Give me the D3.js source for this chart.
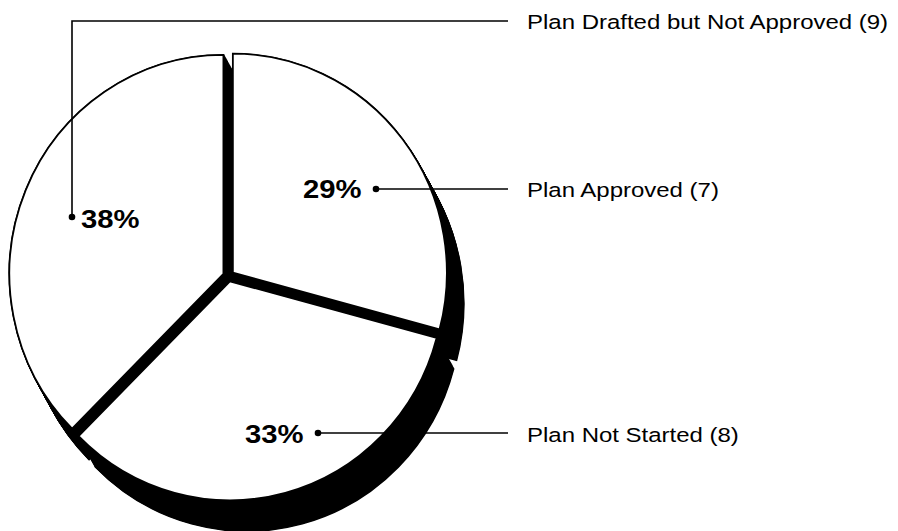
<!DOCTYPE html>
<html>
<head>
<meta charset="utf-8">
<script src="https://cdn.jsdelivr.net/npm/d3@7"></script>
<style>
  html, body { margin: 0; padding: 0; background: #fff; }
  svg { display: block; }
  text { font-family: "Liberation Sans", Arial, Helvetica, sans-serif; fill: #000; }
</style>
</head>
<body>
<svg id="chart" width="898" height="531"></svg>
<script>
// ---- data ----
const categories = ["Plan Approved", "Plan Not Started", "Plan Drafted but Not Approved"];
const counts = [7, 8, 9];
const percentLabels = ["29%", "33%", "38%"];

// ---- layout ----
const cx = 228.5, cy = 276;
const rx = 214, ry = 219;
const explode = 5.5;
const depth = [17, 31];   // extrusion (shadow) vector
const textStretch = 1.17;

const svg = d3.select("#chart");

const pie = d3.pie().sort(null).value(d => d).startAngle(0).endAngle(2 * Math.PI);
const arcs = pie(counts);
const arc = d3.arc().innerRadius(0).outerRadius(rx);

function offset(d) {
  const m = (d.startAngle + d.endAngle) / 2;
  return [Math.sin(m) * explode, -Math.cos(m) * explode];
}

// shadows (extrusion)
const shadowLayer = svg.append("g");
const steps = 40;
arcs.forEach(d => {
  const o = offset(d);
  for (let k = 0; k <= steps; k++) {
    const tx = cx + o[0] + depth[0] * k / steps;
    const ty = cy + o[1] + depth[1] * k / steps;
    shadowLayer.append("path")
      .attr("d", arc(d))
      .attr("transform", `translate(${tx},${ty}) scale(1,${ry / rx})`)
      .attr("fill", "#000")
      .attr("stroke", "#000")
      .attr("stroke-width", 1.5)
      .attr("vector-effect", "non-scaling-stroke");
  }
});

// top faces
svg.append("g").selectAll("path")
  .data(arcs)
  .join("path")
  .attr("d", d => arc(d))
  .attr("transform", d => {
    const o = offset(d);
    return `translate(${cx + o[0]},${cy + o[1]}) scale(1,${ry / rx})`;
  })
  .attr("fill", "#fff")
  .attr("stroke", "#000")
  .attr("stroke-width", 1.8)
  .attr("vector-effect", "non-scaling-stroke");

// ---- labels & leaders ----
const lineEndX = 508;
const labelX = 527;
const leaders = [
  { pctX: 303, pctY: 198, dot: [376, 189], path: [[376, 189], [lineEndX, 189]], labY: 197 },
  { pctX: 245, pctY: 443, dot: [318, 433], path: [[318, 433], [lineEndX, 433]], labY: 442 },
  { pctX: 81,  pctY: 228, dot: [72, 217],  path: [[72, 217], [72, 21], [lineEndX, 21]], labY: 29 }
];

const lab = svg.append("g");
leaders.forEach((L, i) => {
  lab.append("path")
    .attr("d", d3.line()(L.path))
    .attr("fill", "none")
    .attr("stroke", "#000")
    .attr("stroke-width", 1.6);
  lab.append("circle")
    .attr("cx", L.dot[0]).attr("cy", L.dot[1]).attr("r", 3.3)
    .attr("fill", "#000");
  lab.append("text")
    .attr("transform", `translate(${L.pctX},${L.pctY}) scale(${textStretch},1)`)
    .attr("font-size", 25).attr("font-weight", "bold")
    .text(percentLabels[i]);
  lab.append("text")
    .attr("transform", `translate(${labelX},${L.labY}) scale(${textStretch},1)`)
    .attr("font-size", 20.5)
    .text(`${categories[i]} (${counts[i]})`);
});
</script>
</body>
</html>
